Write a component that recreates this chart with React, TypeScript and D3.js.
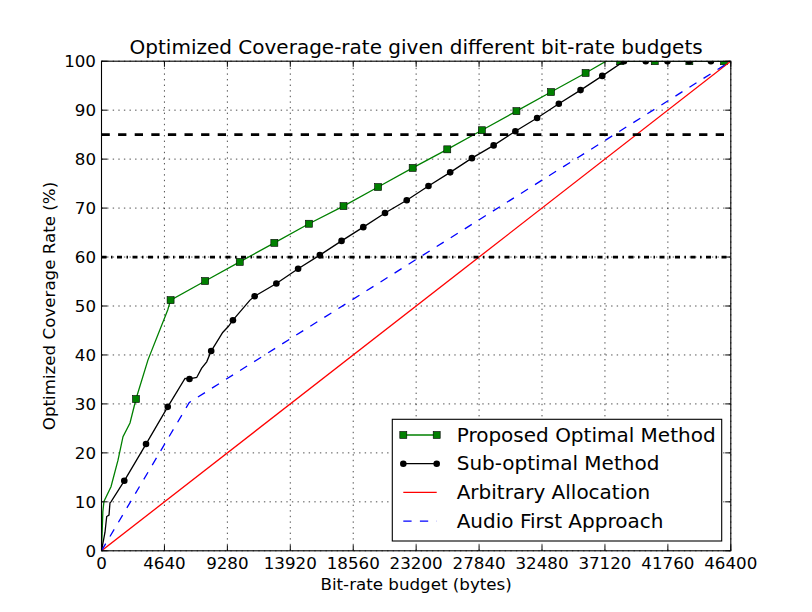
import React from "react";
import * as d3 from "d3";

// ---------- data ----------
const xTickValues = [0, 4640, 9280, 13920, 18560, 23200, 27840, 32480, 37120, 41760, 46400];
const yTickValues = [0, 10, 20, 30, 40, 50, 60, 70, 80, 90, 100];

const proposedX = [0, 100, 180, 700, 1217, 1585, 2101, 2544, 3428, 4881, 5094, 7644, 10194, 12744, 15294, 17844, 20394, 22944, 25494, 28044, 30594, 33144, 35694, 37200, 38244, 40794, 43344, 45894, 46400];
const proposedY = [0, 8, 10.1, 13.1, 18.5, 23.3, 26.1, 31.0, 39.0, 49.2, 51.2, 55.1, 59.0, 62.9, 66.8, 70.4, 74.3, 78.2, 82.0, 85.9, 89.8, 93.7, 97.6, 100, 100, 100, 100, 100, 100];
const proposedMarkers = [7, 10, 11, 12, 13, 14, 15, 16, 17, 18, 19, 20, 21, 22, 24, 25, 26, 27];

const subX = [0, 258, 383, 553, 627, 700, 1680, 3282, 4884, 6157, 6486, 7019, 7388, 7757, 8088, 8936, 9349, 9690, 10949, 11292, 12894, 14496, 16098, 17700, 19302, 20904, 22506, 24108, 25710, 27312, 28914, 30516, 32118, 33720, 35322, 36924, 38526, 40128, 41730, 43332, 44934, 46400];
const subY = [0, 3.8, 7.0, 7.3, 9.8, 10.0, 14.3, 21.8, 29.4, 35.2, 35.1, 35.4, 37.3, 38.6, 40.8, 44.6, 45.8, 47.1, 51.2, 52.0, 54.6, 57.6, 60.4, 63.3, 66.1, 69.0, 71.6, 74.5, 77.3, 80.2, 82.8, 85.7, 88.4, 91.3, 94.1, 97.0, 100, 100, 100, 100, 100, 100];
const subMarkers = [6, 7, 8, 10, 14, 17, 19, 20, 21, 22, 23, 24, 25, 26, 27, 28, 29, 30, 31, 32, 33, 34, 35, 36, 37, 38, 39, 40];

const arbitraryX = [0, 46400];
const arbitraryY = [0, 100];

const audioX = [0, 6474, 46400];
const audioY = [0, 30.3, 100];

const thresholds = [85, 60];

const legendLabels = ["Proposed Optimal Method", "Sub-optimal Method", "Arbitrary Allocation", "Audio First Approach"];

// ---------- layout ----------
const W = 812;
const H = 612;
const L = 101.5, R = 730.8, T = 61.2, B = 550.8;
const FONT = "'DejaVu Sans', sans-serif";

export default function App() {
  const x = d3.scaleLinear().domain([0, 46400]).range([L, R]);
  const y = d3.scaleLinear().domain([0, 100]).range([B, T]);

  const mk = (xs: number[], ys: number[]) => xs.map((v, i) => [v, ys[i]] as [number, number]);
  const line = d3.line<[number, number]>().x(d => x(d[0])).y(d => y(d[1]));

  const proposed = mk(proposedX, proposedY);
  const sub = mk(subX, subY);
  const arbitrary = mk(arbitraryX, arbitraryY);
  const audio = mk(audioX, audioY);

  const tickLen = 5.6;
  const sq = 7;

  const legendX = 392.3, legendY = 419.3, legendW = 329.4, legendH = 121.7;
  const rowY = (i: number) => 435 + 28.7 * i;
  const hx0 = 403.3, hx1 = 436.7, tx = 456.7;

  return (
    <svg width={W} height={H} style={{ position: "absolute", left: 0, top: 0, background: "#fff" }} fontFamily={FONT}>
      <rect x={0} y={0} width={W} height={H} fill="#fff" />
      <defs>
        <clipPath id="plotclip">
          <rect x={L} y={T} width={R - L} height={B - T} />
        </clipPath>
      </defs>
      {/* grid */}
      <g stroke="#000" strokeWidth={0.7} strokeDasharray="1.4,4.2">
        {xTickValues.map(v => (
          <line key={"gx" + v} x1={x(v)} x2={x(v)} y1={B} y2={T} />
        ))}
        {yTickValues.map(v => (
          <line key={"gy" + v} x1={L} x2={R} y1={y(v)} y2={y(v)} />
        ))}
      </g>
      <g clipPath="url(#plotclip)">
        <path d={line(proposed)!} fill="none" stroke="#008000" strokeWidth={1.3} />
        {proposedMarkers.map(i => (
          <rect key={"pm" + i} x={x(proposed[i][0]) - sq / 2} y={y(proposed[i][1]) - sq / 2} width={sq} height={sq} fill="#008000" stroke="#000" strokeWidth={0.6} />
        ))}
        <path d={line(sub)!} fill="none" stroke="#000" strokeWidth={1.3} />
        {subMarkers.map(i => (
          <circle key={"sm" + i} cx={x(sub[i][0])} cy={y(sub[i][1])} r={3.3} fill="#000" />
        ))}
        <path d={line(arbitrary)!} fill="none" stroke="#ff0000" strokeWidth={1.3} />
        <path d={line(audio)!} fill="none" stroke="#0000ff" strokeWidth={1.3} strokeDasharray="8.3,8.3" />
        {thresholds.map((t, i) => (
          <line key={"th" + t} x1={L} x2={R} y1={y(t)} y2={y(t)} stroke="#000" strokeWidth={2.8}
            strokeDasharray={i === 0 ? "8.3,8.3" : "5,4.5,1.5,4.5"} />
        ))}
      </g>
      {/* spines */}
      <rect x={L} y={T} width={R - L} height={B - T} fill="none" stroke="#000" strokeWidth={1.1} />
      {/* ticks */}
      <g stroke="#000" strokeWidth={1}>
        {xTickValues.map(v => (
          <g key={"xt" + v}>
            <line x1={x(v)} x2={x(v)} y1={B} y2={B - tickLen} />
            <line x1={x(v)} x2={x(v)} y1={T} y2={T + tickLen} />
          </g>
        ))}
        {yTickValues.map(v => (
          <g key={"yt" + v}>
            <line x1={L} x2={L + tickLen} y1={y(v)} y2={y(v)} />
            <line x1={R} x2={R - tickLen} y1={y(v)} y2={y(v)} />
          </g>
        ))}
      </g>
      {/* tick labels */}
      <g fontSize={16.7} fill="#000">
        {xTickValues.map(v => (
          <text key={"xl" + v} x={x(v)} y={568.5} textAnchor="middle">{v}</text>
        ))}
        {yTickValues.map(v => (
          <text key={"yl" + v} x={96} y={y(v) + 6.1} textAnchor="end">{v}</text>
        ))}
      </g>
      {/* axis labels */}
      <text x={(L + R) / 2} y={590} textAnchor="middle" fontSize={16.7}>Bit-rate budget (bytes)</text>
      <text transform={`translate(54.5, ${(T + B) / 2}) rotate(-90)`} textAnchor="middle" fontSize={16.7}>Optimized Coverage Rate (%)</text>
      {/* title */}
      <text x={(L + R) / 2} y={54.3} textAnchor="middle" fontSize={20}>Optimized Coverage-rate given different bit-rate budgets</text>
      {/* legend */}
      <g>
        <rect x={legendX} y={legendY} width={legendW} height={legendH} fill="#fff" stroke="#000" strokeWidth={1.1} />
        {/* proposed */}
        <line x1={hx0} x2={hx1} y1={rowY(0)} y2={rowY(0)} stroke="#008000" strokeWidth={1.3} />
        {[hx0, hx1].map(px => (
          <rect key={"lp" + px} x={px - sq / 2} y={rowY(0) - sq / 2} width={sq} height={sq} fill="#008000" stroke="#000" strokeWidth={0.6} />
        ))}
        {/* sub */}
        <line x1={hx0} x2={hx1} y1={rowY(1)} y2={rowY(1)} stroke="#000" strokeWidth={1.3} />
        {[hx0, hx1].map(px => (
          <circle key={"ls" + px} cx={px} cy={rowY(1)} r={3.3} fill="#000" />
        ))}
        <line x1={hx0} x2={hx1} y1={rowY(2)} y2={rowY(2)} stroke="#ff0000" strokeWidth={1.3} />
        <line x1={hx0} x2={hx1} y1={rowY(3)} y2={rowY(3)} stroke="#0000ff" strokeWidth={1.3} strokeDasharray="8.3,8.3" />
        {legendLabels.map((lab, i) => (
          <text key={lab} x={tx} y={rowY(i) + 6.7} fontSize={20}>{lab}</text>
        ))}
      </g>
    </svg>
  );
}
